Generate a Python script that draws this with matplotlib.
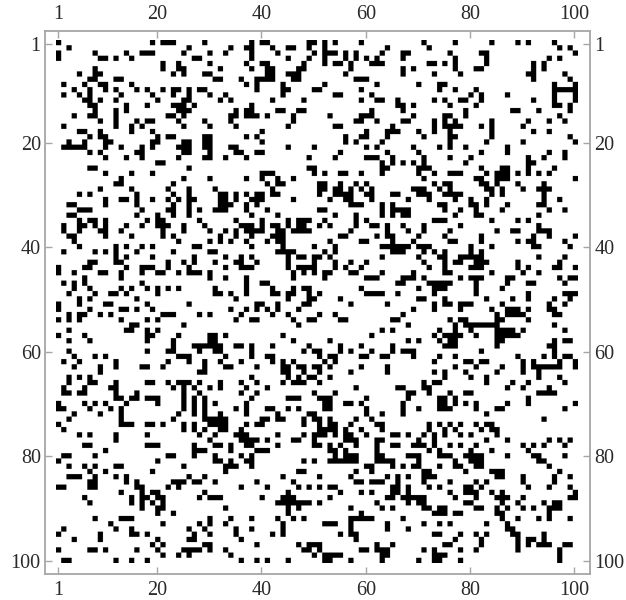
import numpy as np
import matplotlib
matplotlib.use("Agg")
import matplotlib.pyplot as plt

# black cells per row (1-based column numbers)
rows = [
    [1,19,21,22,23,29,38,40,41,49,50,52,54,59,71,77,84,89,91,96],
    [3,26,34,37,38,42,45,46,49,52,64,72,97,99],
    [1,8,14,17,18,19,25,30,33,38,43,50,52,53,54,56,58,63,67,68,76,82,83,100],
    [1,9,10,12,15,27,28,38,45,49,52,56,58,60,62,67,77,83,95,97],
    [21,24,30,37,40,41,48,52,54,55,57,61,62,63,72,73,75,77,83,92,94],
    [8,21,24,25,32,38,41,42,47,48,57,67,69,77,81,82,92,94],
    [5,8,9,23,25,29,30,41,42,45,46,47,56,67,73,78,91,92,98],
    [7,8,12,13,31,32,36,39,40,41,42,46,47,58,59,60,92,99],
    [2,6,9,10,15,37,39,44,52,62,70,74,75,96,100],
    [4,7,10,12,16,18,21,23,24,26,28,29,39,44,45,50,51,59,74,77,81,96,97,98,99,100],
    [2,5,7,13,19,23,26,30,33,44,54,55,61,80,82,87,96,100],
    [6,7,9,12,20,25,26,32,34,42,48,59,62,63,66,73,75,78,79,82,92,96,100],
    [7,8,14,18,23,24,25,27,38,66,67,69,76,81,96,97,99],
    [8,12,14,24,25,26,35,37,38,43,44,47,48,61,67,79,88,89,93,99],
    [4,7,8,12,22,23,25,34,35,37,38,39,41,46,53,59,60,61,69,75,76,79,97],
    [9,12,16,18,19,24,29,34,46,58,59,62,67,68,73,75,77,84,91,95,98],
    [2,12,15,17,25,30,35,45,54,55,65,73,75,76,77,78,82,84,90],
    [5,6,9,15,19,40,60,64,65,66,70,73,76,84,92,95],
    [7,9,10,20,22,23,29,30,37,39,56,59,60,64,71,76,77,84,99],
    [3,6,10,11,19,20,25,26,29,30,40,56,58,63,76,83,90,100],
    [2,3,4,5,6,10,13,17,19,24,25,26,29,30,34,35,45,50,60,62,69,74,76,79,87],
    [7,9,16,17,25,26,30,35,36,39,40,55,64,70,82,87,95,98],
    [10,14,17,24,29,30,33,37,49,54,60,61,62,65,71,76,80,91,94,98],
    [20,21,63,65,67,69,71,79,91,92],
    [7,8,26,49,50,63,64,70,71,72,82,86,87,91,96],
    [10,15,19,40,41,42,50,52,55,56,59,63,70,73,76,77,78,83,85,86,87,89,91,93,95],
    [13,25,30,37,40,43,46,71,81,82,85,86,87,100],
    [12,13,23,41,43,44,51,52,55,58,60,73,75,76,82,83,85,89,94],
    [9,15,22,26,31,42,51,52,54,55,57,59,61,69,70,71,74,76,83,84,86,90,93,94,95],
    [5,7,16,23,26,32,33,35,37,39,40,42,43,51,54,55,56,57,60,61,65,66,70,71,72,75,76,77,78,84,86,94],
    [10,13,14,16,19,22,24,26,27,32,33,35,38,39,40,46,53,56,57,61,68,72,77,80,83,94,97],
    [3,4,10,16,23,26,32,33,34,37,39,57,58,59,63,65,74,75,80,81,83,87,93,94],
    [5,6,7,17,22,23,26,28,31,32,33,37,41,51,52,63,65,66,67,68,75,78,81,86,95,98],
    [3,4,16,20,23,26,38,43,54,58,63,65,67,68,77,81,82,93],
    [5,7,8,10,18,20,21,28,35,40,45,47,48,49,52,58,60,73,74,75,84,89,91],
    [2,5,6,8,10,14,17,20,21,22,25,29,36,37,38,40,42,43,45,47,48,51,53,58,61,62,64,67,71,78,93],
    [2,5,9,10,13,21,25,30,33,35,37,38,39,40,43,44,46,47,48,49,57,64,68,71,76,85,88,89,93,94,95],
    [3,4,10,15,21,23,32,35,38,42,43,44,55,56,62,64,65,70,75,82,92,95,100],
    [4,24,30,32,34,37,41,43,44,53,59,60,65,69,76,77,82,89,91,92,98],
    [5,12,14,17,19,27,28,38,44,50,54,63,64,65,66,67,68,70,71,72,80,84,92,93,99],
    [2,8,10,12,16,23,30,31,43,44,45,46,52,54,65,66,67,71,73,75,80,82],
    [12,14,19,27,33,36,38,45,47,48,50,51,53,63,70,74,75,78,79,80,81,82,93,98],
    [7,8,12,13,22,25,27,31,35,36,39,45,50,54,57,60,71,75,77,78,81,82,83,89,97],
    [1,6,7,14,17,18,19,22,26,33,36,37,38,45,47,48,49,50,54,56,59,72,75,80,81,82,89,91,96,97,100],
    [1,4,9,10,13,17,20,21,24,26,27,28,30,46,48,50,52,53,57,58,63,69,75,76,84,90,93],
    [6,13,30,33,37,46,52,60,61,62,67,68,69,71,78,80,81,82,87,88,97,99,100],
    [2,4,6,17,37,40,41,66,67,72,73,74,75,76,81,87,91,92,98],
    [4,7,13,15,18,20,22,24,31,37,42,46,48,49,59,70,73,74,75,81,86],
    [3,8,11,12,14,20,31,32,34,37,42,43,45,46,49,51,60,61,62,63,66,73,81,91,98,99,100],
    [5,7,16,35,45,49,50,55,70,71,75,83,88,91,96,99],
    [1,5,10,11,18,26,39,40,43,48,49,57,64,73,75,76,78,79,80,86,95,98],
    [1,7,13,14,16,19,34,37,39,41,43,47,69,73,78,84,87,88,89,91,95,96],
    [3,5,6,9,11,21,22,23,28,30,36,42,45,51,54,67,85,87,88,89,90,96,97],
    [1,3,5,13,18,20,35,38,39,46,49,50,55,56,65,66,76,78,79,85,86,91],
    [15,16,25,47,68,77,79,80,81,82,83,84,85,96],
    [3,14,15,18,20,63,65,74,77,80,85,86,87,88,90,98],
    [1,6,18,19,24,30,31,33,44,61,73,75,76,77,78,81,85,86,87,88,89],
    [3,7,18,23,30,31,46,53,68,70,74,76,77,85,86,96,98,99],
    [23,27,28,29,30,31,32,35,36,38,42,49,55,59,65,75,76,77,85,95,96],
    [3,18,22,23,28,31,32,38,48,50,51,55,57,61,65,67,68,69,82,96],
    [4,8,10,24,25,26,33,38,41,42,51,53,54,59,60,63,64,69,74,77,89,94,96,98,99],
    [2,5,12,22,26,29,32,36,42,44,46,52,54,73,79,80,82,83,90,92,97,100],
    [4,9,12,17,18,21,29,33,34,39,44,45,47,48,50,51,53,59,64,77,81,86,90,92,93,94,95,96,97,100],
    [9,28,29,44,45,48,51,57,64,73,75,79,85,90,93],
    [3,5,7,38,45,47,49,50,53,75,80,83,93,97],
    [3,7,8,12,18,19,22,24,25,26,28,32,36,39,44,46,47,48,51,71,73,74,83,88,91,98],
    [2,6,11,12,23,25,27,30,32,37,41,58,66,67,71,72,87,90,95],
    [2,3,5,6,12,16,25,28,36,39,50,54,68,69,72,76,79,80,93,94,95,96],
    [12,13,15,16,18,19,20,25,27,29,38,45,46,47,51,52,53,60,68,74,75,77,91],
    [1,6,8,10,14,20,25,27,29,31,37,52,53,56,57,59,67,74,75,77,79,81,87,91,100],
    [1,2,7,11,13,25,27,29,35,37,41,42,45,47,52,53,60,67,70,74,75,76,81,85,86,98],
    [4,9,13,24,27,29,32,37,43,49,50,60,63,67,83],
    [3,13,23,29,30,31,32,33,40,41,43,44,48,50,51,53,58,61,94],
    [1,13,14,15,18,19,21,25,27,30,31,32,33,37,39,40,48,51,53,54,57,62,63,72,74,76,78,81,83,84],
    [2,25,27,29,32,33,36,51,52,53,54,56,59,63,72,75,77,82,84,85],
    [5,7,12,18,28,31,35,36,37,43,48,50,51,52,54,56,57,60,65,66,68,71,73,75,78,80,85],
    [12,30,36,37,38,39,41,46,47,50,56,57,58,62,63,70,73,83,87,95,97,99],
    [6,7,18,19,20,27,31,32,34,37,38,43,50,51,53,55,58,62,65,66,69,70,71,73,76,78,81,90,92,94,98],
    [10,27,28,29,34,39,40,41,53,54,56,62,72,74,80,84,91],
    [2,3,8,22,23,27,31,36,38,54,56,57,58,62,63,68,69,70,74,75,76,79,80,81,82,87,92,93,98],
    [1,20,31,32,34,37,38,48,50,53,54,55,56,57,58,62,63,64,65,70,77,80,81,82,93,94],
    [3,6,8,12,13,25,33,34,35,38,60,61,65,67,69,70,74,77,78,81,82,95],
    [7,10,19,33,47,48,58,61,71,72,79,84,85,86,97],
    [3,4,5,8,12,14,26,29,44,51,57,64,66,68,71,72,73,85,86,90,96,99],
    [7,8,14,16,23,24,25,27,28,31,39,46,58,59,61,62,63,66,71,76,81,83,90,96],
    [1,2,7,8,16,17,22,24,36,41,47,49,51,53,54,65,66,68,72,74,79,80,82,91,95,99],
    [13,17,19,20,29,45,55,59,61,65,66,68,76,79,80,81,84,86,100],
    [6,15,17,18,20,21,28,30,31,32,40,44,45,46,53,64,65,67,68,69,70,71,77,81,85,86,87,90,99,100],
    [7,15,17,19,21,43,44,45,46,47,48,49,51,62,68,70,71,79,80,86,89,94,96,97],
    [17,20,21,33,45,47,57,63,65,71,72,74,75,81,82,85,87,90,92,95,96,97],
    [20,23,45,59,73,74,75,77,78,85,86,95],
    [8,13,14,15,30,34,38,43,46,48,57,58,59,60,61,67,86,89,93,95,99],
    [11,21,28,30,33,44,52,53,54,57,64,71,74,76,83,87],
    [2,12,15,26,29,35,38,44,57,64,68,87,88],
    [1,9,15,16,18,27,30,35,42,44,55,57,58,73,74,78,81,83,88,89,94],
    [4,9,20,26,27,36,58,77,82,89,91,92,94],
    [19,21,29,30,39,47,49,50,51,62,65,75,76,82,89,91,93,94,95,98,99],
    [1,7,8,10,16,20,25,26,27,28,30,33,48,49,51,59,60,62,63,64,71,73,78,81,89,97],
    [21,24,26,34,50,52,53,54,55,63,64,73,74,75,97],
    [2,3,12,15,18,36,39,41,45,52,53,57,63,70,73,74,78,97],
]
tick_labels = [1, 20, 40, 60, 80, 100]

# build the matrix
matrix = np.zeros((100, 100))
for i, cols in enumerate(rows):
    for c in cols:
        matrix[i, c - 1] = 1

plt.rcParams["font.family"] = ["Liberation Serif", "DejaVu Serif"]

fig = plt.figure(figsize=(6.26, 6.0), dpi=100)
ax = fig.add_axes([45 / 626, 1 - 574 / 600, 545 / 626, 543.5 / 600])
# repeat cells so the downsampling smooths edges like the scanned original
big = np.repeat(np.repeat(matrix, 8, axis=0), 8, axis=1)
ax.imshow(big, cmap="gray_r", vmin=0, vmax=1, interpolation="hanning",
          extent=(0.5, 100.5, 100.5, 0.5), aspect="auto")
ax.set_xlim(-1.55, 103.05)
ax.set_ylim(102.53, -1.55)

frame_color = "#a6a6a6"
for s in ax.spines.values():
    s.set_color(frame_color)
    s.set_linewidth(1.3)

ax.set_xticks(tick_labels)
ax.set_yticks(tick_labels)
ax.tick_params(axis="both", direction="in", length=5, width=1, color=frame_color,
               labelsize=14.5, labelcolor="#2a2a2a",
               top=True, right=True, labeltop=True, labelright=True)
ax.tick_params(axis="x", pad=5)
ax.tick_params(axis="y", pad=3)

fig.savefig("out.png", dpi=100)
